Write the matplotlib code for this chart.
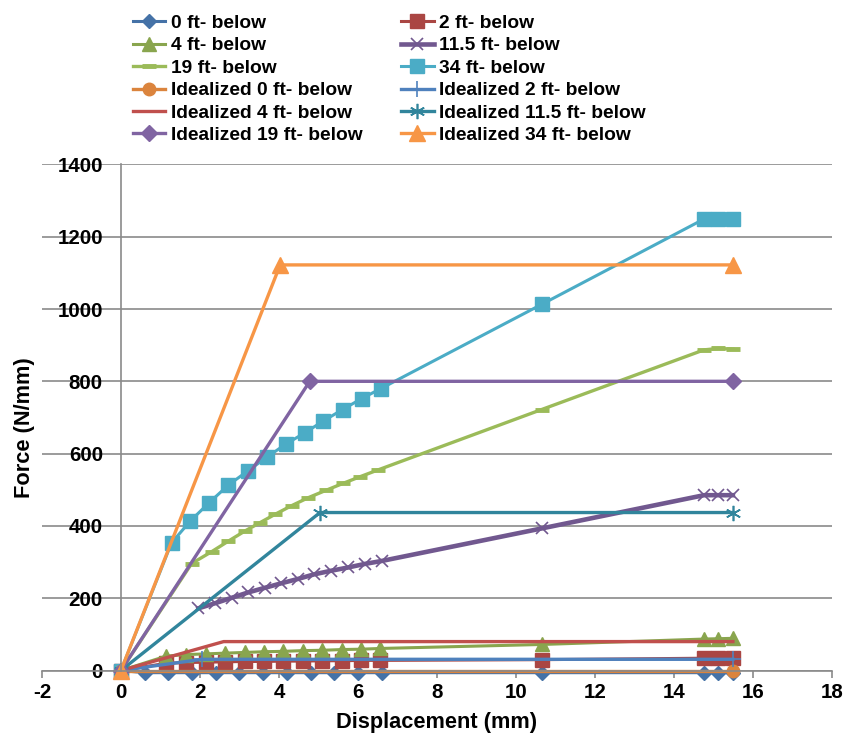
import numpy as np
import matplotlib
matplotlib.use('Agg')
import matplotlib.pyplot as plt

plt.rcParams['font.family'] = ['Liberation Sans', 'DejaVu Sans']
plt.rcParams['font.weight'] = 'bold'
plt.rcParams['axes.unicode_minus'] = False

# measured series (displacement mm, force N/mm)
x_0ft = [0, 0.6, 1.2, 1.8, 2.4, 3.0, 3.6, 4.2, 4.8, 5.4, 6.0, 6.6, 10.65, 14.76, 15.12, 15.49]
f_0ft = [0, -6, -6, -6, -6, -6, -6, -6, -6, -6, -6, -6, -6, -6, -6, -6]

x_2ft = [0, 1.15, 1.64, 2.15, 2.63, 3.13, 3.63, 4.1, 4.6, 5.1, 5.6, 6.08, 6.57, 10.65, 14.76, 15.12, 15.49]
f_2ft = [0, 20, 22, 23, 24, 25, 25, 26, 26, 27, 27, 28, 28, 30, 34, 34, 34]

x_4ft = [0, 1.15, 1.64, 2.15, 2.63, 3.13, 3.63, 4.1, 4.6, 5.1, 5.6, 6.08, 6.57, 10.65, 14.76, 15.12, 15.49]
f_4ft = [0, 40, 44, 46, 48, 50, 52, 53, 55, 56, 58, 59, 61, 72, 87, 88, 89]

x_11ft = [1.96, 2.38, 2.80, 3.22, 3.65, 4.05, 4.47, 4.89, 5.32, 5.75, 6.18, 6.60, 10.65, 14.76, 15.12, 15.49]
f_11ft = [172, 186, 201, 216, 229, 241, 253, 266, 276, 285, 295, 303, 393, 485, 485, 485]

x_19ft = [0, 1.79, 2.30, 2.72, 3.14, 3.52, 3.90, 4.32, 4.74, 5.18, 5.63, 6.05, 6.51, 10.65, 14.76, 15.12, 15.49]
f_19ft = [0, 296, 329, 358, 386, 409, 432, 456, 478, 498, 518, 536, 555, 722, 887, 891, 889]

x_34ft = [0, 1.28, 1.75, 2.23, 2.72, 3.21, 3.69, 4.17, 4.66, 5.12, 5.61, 6.09, 6.58, 10.67, 14.76, 15.12, 15.49]
f_34ft = [0, 353, 413, 464, 513, 552, 590, 626, 658, 690, 722, 752, 780, 1014, 1249, 1249, 1249]

# idealized curves
xi_0 = [0, 15.49]
fi_0 = [0, 0]
xi_2 = [0, 2.05, 15.49]
fi_2 = [0, 31, 31]
xi_4 = [0, 2.6, 15.49]
fi_4 = [0, 80, 80]
xi_11 = [0, 5.04, 15.49]
fi_11 = [0, 437, 437]
xi_19 = [0, 4.78, 15.49]
fi_19 = [0, 800, 800]
xi_34 = [0, 4.03, 15.49]
fi_34 = [0, 1122, 1122]

fig = plt.figure(figsize=(8.56, 7.34), dpi=100)
ax = fig.add_axes([0.049, 0.0865, 0.923, 0.6895])

h = {}
h['0 ft- below'], = ax.plot(x_0ft, f_0ft, color='#4572A7', lw=2.2, marker='D', ms=7, clip_on=False)
h['2 ft- below'], = ax.plot(x_2ft, f_2ft, color='#AA4643', lw=2.2, marker='s', ms=9.5, clip_on=False)
h['4 ft- below'], = ax.plot(x_4ft, f_4ft, color='#89A54E', lw=2.2, marker='^', ms=10, clip_on=False)
h['11.5 ft- below'], = ax.plot(x_11ft, f_11ft, color='#71588F', lw=3.3, marker='x', ms=9, mew=1.2, clip_on=False)
h['19 ft- below'], = ax.plot(x_19ft, f_19ft, color='#9BBB59', lw=2.4, marker='_', ms=10, mew=3.5, clip_on=False)
h['34 ft- below'], = ax.plot(x_34ft, f_34ft, color='#4BACC6', lw=2.2, marker='s', ms=10, clip_on=False)
h['Idealized 0 ft- below'], = ax.plot(xi_0, fi_0, color='#DB843D', lw=2.4, marker='o', ms=9, clip_on=False)
h['Idealized 2 ft- below'], = ax.plot(xi_2, fi_2, color='#4F81BD', lw=2.4, marker='+', ms=12, mew=1.2, clip_on=False)
h['Idealized 4 ft- below'], = ax.plot(xi_4, fi_4, color='#C0504D', lw=2.4, clip_on=False)
h['Idealized 11.5 ft- below'], = ax.plot(xi_11, fi_11, color='#31859C', lw=2.4, marker=(6, 2, 0), ms=11, mew=1.2, clip_on=False)
h['Idealized 19 ft- below'], = ax.plot(xi_19, fi_19, color='#8064A2', lw=2.4, marker='D', ms=8, clip_on=False)
h['Idealized 34 ft- below'], = ax.plot(xi_34, fi_34, color='#F79646', lw=2.4, marker='^', ms=11, clip_on=False)

ax.set_xlim(-2, 18)
ax.set_ylim(0, 1400)
ax.set_xticks(np.arange(-2, 19, 2))
ax.set_yticks(np.arange(0, 1401, 200))

for s in ['top', 'right']:
    ax.spines[s].set_visible(False)
ax.spines['left'].set_position(('data', 0))
ax.spines['left'].set_color('#8a8a8a')
ax.spines['left'].set_linewidth(1.2)
ax.spines['bottom'].set_color('#8a8a8a')
ax.spines['bottom'].set_linewidth(1.2)

ax.yaxis.grid(True, color='#8a8a8a', lw=1.2)
ax.set_axisbelow(True)
ax.tick_params(axis='y', length=0, pad=13, labelsize=14.8)
ax.tick_params(axis='x', direction='out', length=5, width=1.2, color='#8a8a8a', pad=4, labelsize=14.8)
for lab in ax.get_xticklabels() + ax.get_yticklabels():
    lab.set_fontweight('bold')

ax.set_xlabel('Displacement (mm)', fontsize=15.7, fontweight='bold')
ax.set_ylabel('Force (N/mm)', fontsize=15.7, fontweight='bold')
ax.xaxis.set_label_coords(0.5, -0.081)
ax.yaxis.set_label_coords(-0.009, 0.479)

# legend filled row by row as in the original
order = ['0 ft- below', '4 ft- below', '19 ft- below', 'Idealized 0 ft- below',
         'Idealized 4 ft- below', 'Idealized 19 ft- below',
         '2 ft- below', '11.5 ft- below', '34 ft- below', 'Idealized 2 ft- below',
         'Idealized 11.5 ft- below', 'Idealized 34 ft- below']
fig.legend([h[k] for k in order], order, loc='upper left', bbox_to_anchor=(0.155, 0.98),
           ncol=2, frameon=False, prop={'weight': 'bold', 'size': 13.8},
           numpoints=1, handlelength=1.7, handletextpad=0.3, columnspacing=2.0,
           labelspacing=0.26, borderpad=0, borderaxespad=0)

fig.savefig('out.png', dpi=100)
